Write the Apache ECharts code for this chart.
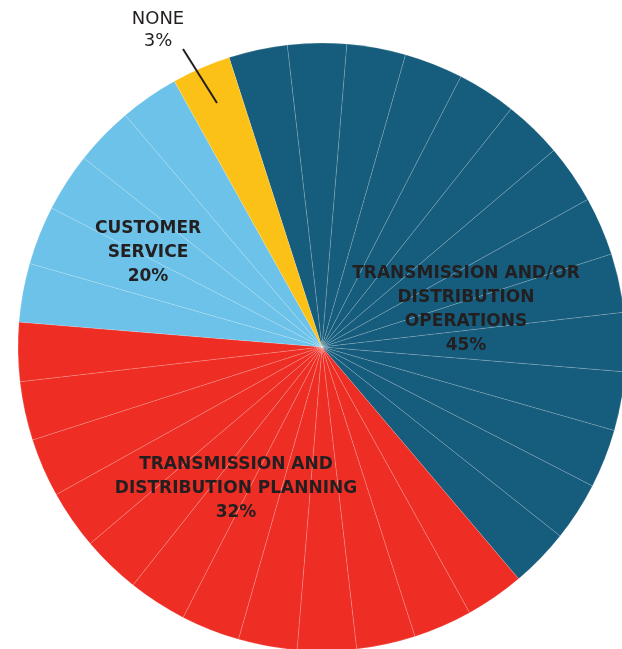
<!DOCTYPE html>
<html>
<head>
<meta charset="utf-8">
<script src="https://cdn.jsdelivr.net/npm/echarts@6/dist/echarts.min.js"></script>
<style>
  html, body { margin: 0; padding: 0; background: #fff; }
  #chart { width: 622px; height: 649px; }
</style>
</head>
<body>
<div id="chart"></div>
<script>
// groups, clockwise from the top
const groupNames = [
  "TRANSMISSION AND/OR\nDISTRIBUTION\nOPERATIONS",
  "TRANSMISSION AND\nDISTRIBUTION PLANNING",
  "CUSTOMER\nSERVICE",
  "NONE"
]
const groupShares = ["45%", "32%", "20%", "3%"]
const groupSlices = [14, 12, 5, 1]
const groupColors = ["#165c7c", "#ee2e24", "#6cc2e8", "#fcc116"]

// every thin wedge of the pie, with the group it belongs to
const sliceGroups = [
  0, 0, 0, 0, 0, 0, 0, 0, 0, 0, 0, 0, 0, 0,
  1, 1, 1, 1, 1, 1, 1, 1, 1, 1, 1, 1,
  2, 2, 2, 2, 2,
  3
]
const sliceValues = [
  1, 1, 1, 1, 1, 1, 1, 1, 1, 1, 1, 1, 1, 1,
  1, 1, 1, 1, 1, 1, 1, 1, 1, 1, 1, 1,
  1, 1, 1, 1, 1,
  1
]

// where each group label sits
const labelSpots = [[466, 310], [236, 489], [148, 253], [158, 30]]
const noneLeader = [[217, 103], [200, 76], [183, 49]]

const center = [322, 347]
const radius = 304
const startAngle = 107.8

const chart = echarts.init(document.getElementById("chart"))

const sliceData = sliceValues.map((v, i) => ({
  value: v,
  name: "s" + i,
  itemStyle: { color: groupColors[sliceGroups[i]] }
}))

const groupData = groupNames.map((name, i) => {
  const item = { value: groupSlices[i], name: name }
  if (i === 3) {
    item.label = {
      position: "outside",
      fontWeight: "normal",
      fontSize: 18,
      lineHeight: 22
    }
    item.labelLine = { show: true, lineStyle: { color: "#231f20", width: 2 } }
  }
  return item
})

chart.setOption({
  animation: false,
  series: [
    {
      type: "pie",
      z: 1,
      center: center,
      radius: radius,
      startAngle: startAngle,
      clockwise: true,
      silent: true,
      label: { show: false },
      labelLine: { show: false },
      itemStyle: { borderColor: "rgba(255,255,255,0.3)", borderWidth: 0.5 },
      data: sliceData
    },
    {
      type: "pie",
      z: 5,
      center: center,
      radius: radius,
      startAngle: startAngle,
      clockwise: true,
      silent: true,
      avoidLabelOverlap: false,
      itemStyle: { color: "rgba(0,0,0,0)", borderWidth: 0 },
      label: {
        show: true,
        position: "inside",
        fontFamily: "DejaVu Sans",
        fontWeight: "bold",
        fontSize: 17,
        lineHeight: 24,
        color: "#231f20",
        align: "center",
        formatter: (p) => p.name + "\n" + groupShares[p.dataIndex]
      },
      labelLine: { show: false },
      labelLayout: (params) => {
        const spot = labelSpots[params.dataIndex]
        const out = {
          x: spot[0],
          y: spot[1],
          align: "center",
          verticalAlign: "middle"
        }
        if (params.dataIndex === 3) {
          out.labelLinePoints = noneLeader
        }
        return out
      },
      data: groupData
    }
  ]
})
</script>
</body>
</html>
